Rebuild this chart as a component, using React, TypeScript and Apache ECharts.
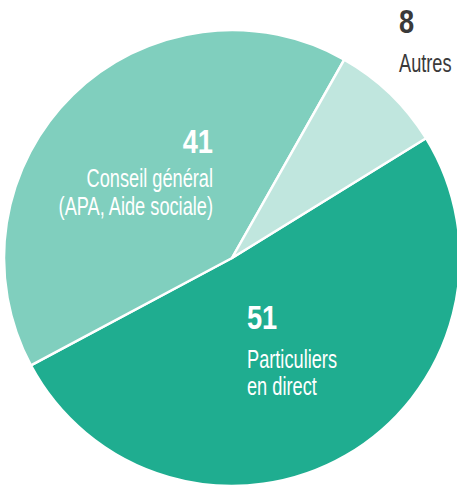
import React, { useEffect, useRef } from "react";
import * as echarts from "echarts";

const categories = ["Particuliers en direct", "Conseil général (APA, Aide sociale)", "Autres"];
const values = [51, 41, 8];
const labelLines = [["Particuliers", "en direct"], ["Conseil général", "(APA, Aide sociale)"], ["Autres"]];
const colors = ["#1fad90", "#80cfbe", "#c0e6de"];

const FONT = "Liberation Sans";

export default function App() {
  const ref = useRef<HTMLDivElement>(null);
  useEffect(() => {
    document.body.style.margin = "0";
    const chart = echarts.init(ref.current!, null, { renderer: "svg" });
    const mkLabel = (i: number, x: number, yNum: number, ys: number[], align: string, color: string) => [
      {
        type: "text",
        z: 10,
        x,
        y: yNum,
        scaleX: 0.8,
        style: {
          text: String(values[i]),
          fontFamily: FONT,
          fontSize: 34,
          fontWeight: "bold",
          fill: color,
          align,
          verticalAlign: "middle",
        },
      },
      ...labelLines[i].map((t, k) => ({
        type: "text",
        z: 10,
        x,
        y: ys[k],
        scaleX: 0.7,
        style: { text: t, fontFamily: FONT, fontSize: 26, fill: color, align, verticalAlign: "middle" },
      })),
    ];
    chart.setOption({
      animation: false,
      series: [
        {
          type: "pie",
          z: 2,
          center: [232, 258],
          radius: 228,
          startAngle: 31.7,
          clockwise: true,
          label: { show: false },
          labelLine: { show: false },
          itemStyle: { borderColor: "#ffffff", borderWidth: 2.5 },
          emphasis: { disabled: true },
          data: categories.map((c, i) => ({ name: c, value: values[i], itemStyle: { color: colors[i] } })),
        },
      ],
      graphic: [
        ...mkLabel(1, 213, 141, [178, 206], "right", "#ffffff"),
        ...mkLabel(0, 247, 317, [359, 386], "left", "#ffffff"),
        ...mkLabel(2, 399, 21, [63], "left", "#3a3a3a"),
      ],
    });
    return () => chart.dispose();
  }, []);
  return <div ref={ref} style={{ width: 457, height: 487 }} />;
}
